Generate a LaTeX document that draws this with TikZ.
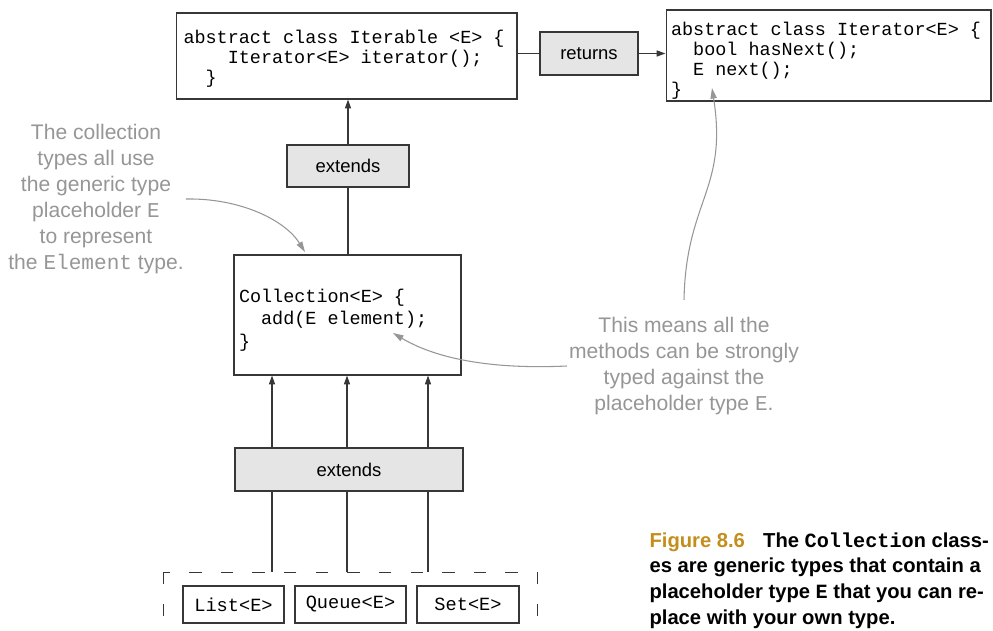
\documentclass[tikz,border=0pt]{standalone}
\usepackage{fontspec}
\setmainfont{Liberation Sans}
\setmonofont{Liberation Mono}
\usetikzlibrary{arrows.meta,positioning,calc}
\definecolor{ink}{RGB}{55,55,55}
\definecolor{note}{RGB}{150,150,150}
\definecolor{tagfill}{RGB}{229,229,229}
\definecolor{figgold}{RGB}{196,142,26}
\newcommand{\lift}[1]{\rule{0pt}{#1}}
\tikzset{
  every picture/.style={line width=0.6pt},
  codebox/.style={draw=ink,fill=white,align=flush left,inner ysep=0pt,
    font=\ttfamily\fontsize{10.5}{11.4}\selectfont},
  tag/.style={draw=ink,fill=tagfill,inner sep=0pt,font=\fontsize{10.5}{12}\selectfont},
  typebox/.style={draw=ink,inner sep=0pt,minimum height=0.74cm,
    font=\ttfamily\fontsize{10.6}{12}\selectfont},
  link/.style={draw=ink,line width=0.7pt},
  up/.style={link,-{Triangle[length=5pt,width=3.4pt]}},
  remark/.style={text=note,align=center,inner sep=1pt,font=\fontsize{12}{14.8}\selectfont},
  pointer/.style={draw=note,line width=0.6pt,-{Triangle[length=6pt,width=3.6pt]}},
  group/.style={draw=ink,line width=0.5pt,dash pattern=on 7pt off 11pt},
}

\begin{document}
\begin{tikzpicture}[x=0.02cm,y=-0.02cm]
  \useasboundingbox (0,0) rectangle (993,631);
  \node[codebox,minimum width=6.82cm,minimum height=1.72cm,text width=6.52cm,inner xsep=0.15cm]
    (iterable) at (346.5,56) {\lift{11pt}abstract class Iterable <E> \{\\\phantom{xxxx}Iterator<E> iterator();\\\phantom{xx}\}};
  \node[codebox,minimum width=6.5cm,minimum height=1.82cm,text width=6.3cm,inner xsep=0.1cm]
    (iterator) at (828.5,55.5) {\lift{13.5pt}abstract class Iterator<E> \{\\\phantom{xx}bool hasNext();\\\phantom{xx}E next();\\\}};
  \node[codebox,minimum width=4.54cm,minimum height=2.4cm,text width=4.34cm,inner xsep=0.1cm,
    font=\ttfamily\fontsize{10.5}{12.8}\selectfont]
    (coll) at (347.5,315) {\lift{13.1pt}Collection<E> \{\\\phantom{xx}add(E element);\\\}};

  \node[tag,minimum width=1.96cm,minimum height=0.86cm] (returns) at (589,53.5) {returns};
  \node[tag,minimum width=2.44cm,minimum height=0.84cm] (extTop) at (348,166) {extends};
  \node[tag,minimum width=4.56cm,minimum height=0.86cm] (extBot) at (349,469.5) {extends};
  \foreach \name/\x/\w in {List/233.5/2.02,Queue/350.5/2.22,Set/468/2.04}
    \node[typebox,minimum width=\w cm] (\name) at (\x,604.5) {\name<E>};

  \draw[link] (returns.west -| iterable.east) -- (returns.west);
  \draw[up] (returns.east) -- (returns.east -| iterator.west);
  \draw[link] (extTop.south |- coll.north) -- (extTop.south);
  \draw[up] (extTop.north) -- (extTop.north |- iterable.south);
  \foreach \x [count=\i] in {272,347,428}{
    \coordinate (leg\i) at (\x,572);
    \draw[up] (extBot.north -| leg\i) -- (coll.south -| leg\i);
    \draw[link] (extBot.south -| leg\i) -- (leg\i);
  }
  \draw[group] (163,572) rectangle (537,660);

  \node[remark] (noteL) at (96,199)
    {The collection\\types all use\\the generic type\\placeholder \texttt{E}\\to represent\\the \texttt{Element} type.};
  \node[remark] (noteR) at (684,366)
    {This means all the\\methods can be strongly\\typed against the\\placeholder type \texttt{E}.};
  \coordinate (collTip) at (305,252);
  \coordinate (addTip) at (393,333);
  \coordinate (nextTip) at (712,88);
  \coordinate (noteTop) at ([yshift=0.3cm]noteR.north);
  \draw[pointer] (noteL.east) .. controls (240,198) and (285,220) .. (collTip);
  \draw[pointer] (noteR.west) .. controls (480,370) and (430,355) .. (addTip);
  \draw[pointer] (noteTop) .. controls (686,200) and (728,190) .. (nextTip);

  \node[anchor=north west,align=left,inner sep=0pt,font=\bfseries\fontsize{11.5}{14.6}\selectfont]
    (caption) at (649,532) {\textcolor{figgold}{Figure 8.6}\hspace{0.9em}The \texttt{Collection} class-\\es are generic types that contain a\\placeholder type \texttt{E} that you can re-\\place with your own type.};
\end{tikzpicture}
\end{document}
